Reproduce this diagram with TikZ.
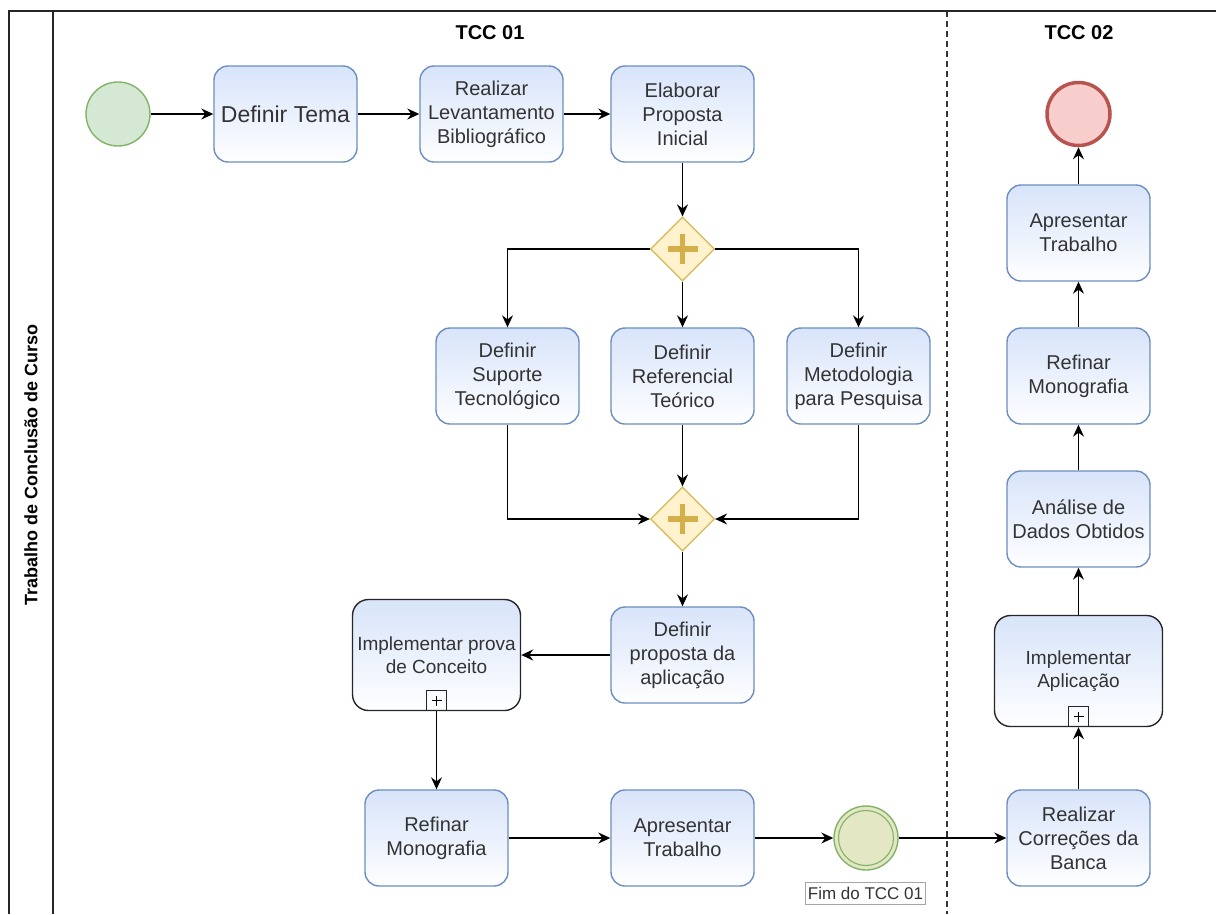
\documentclass[tikz,border=0pt]{standalone}
\usepackage{fontspec}
\setmainfont{Liberation Sans}
\usetikzlibrary{arrows.meta,shapes.geometric}

\definecolor{taskTop}{HTML}{D8E4FA}
\definecolor{taskLine}{HTML}{6C8EBF}
\definecolor{txt}{HTML}{333333}
\definecolor{startFill}{HTML}{D5E8D4}
\definecolor{startLine}{HTML}{82B366}
\definecolor{midFill}{HTML}{E3E7C4}
\definecolor{endFill}{HTML}{F8CECC}
\definecolor{endLine}{HTML}{B85450}
\definecolor{gwFill}{HTML}{FFF2CC}
\definecolor{gwLine}{HTML}{D6B656}
\definecolor{gwPlus}{HTML}{D4B04A}

\tikzset{
  task/.style={draw=taskLine, line width=1.4pt, rounded corners=14pt,
    top color=taskTop, bottom color=white!97!taskTop,
    minimum width=143pt, minimum height=96pt, inner sep=2pt,
    align=center, text=txt, font=\fontsize{20}{24}\selectfont},
  subproc/.style={draw=black!85, line width=1.4pt, rounded corners=16pt,
    top color=taskTop, bottom color=white!97!taskTop,
    minimum width=168pt, minimum height=111pt, inner sep=2pt,
    align=center, text=txt, font=\fontsize{19}{23}\selectfont},
  marker/.style={draw=black!85, line width=1.2pt, minimum size=20pt,
    inner sep=0pt, anchor=south},
  gateway/.style={diamond, draw=gwLine, fill=gwFill, line width=1.2pt,
    minimum width=64pt, minimum height=64pt, inner sep=0pt},
  plusbar/.style={draw=gwPlus, line width=5.5pt},
  startev/.style={circle, draw=startLine, fill=startFill, line width=1.4pt,
    minimum size=64pt, inner sep=0pt},
  midev/.style={circle, draw=startLine, fill=midFill, line width=1.4pt,
    minimum size=64pt, inner sep=0pt},
  endev/.style={circle, draw=endLine, fill=endFill, line width=3.5pt,
    minimum size=63pt, inner sep=0pt},
  flow/.style={line width=1.4pt, draw=black,
    -{Stealth[length=12pt,width=11pt,inset=4pt]}},
  frameline/.style={line width=2pt, draw=black!85},
  title/.style={font=\bfseries\fontsize{20}{24}\selectfont, text=black},
  evlabel/.style={draw=black!35, fill=white, line width=0.8pt, text=txt,
    inner sep=2pt, minimum height=22pt,
    font=\fontsize{17}{20}\selectfont}
}

\begin{document}
\begin{tikzpicture}[x=1pt, y=-1pt]
\useasboundingbox (0,0) rectangle (1216,914);

% pool and lane frame
\draw[frameline] (9,914) -- (9,11) -- (1216,11);
\draw[frameline] (53,11) -- (53,914);
\draw[line width=1.2pt, draw=black!80, dash pattern=on 6pt off 4pt] (947,11) -- (947,914);
\node[rotate=90, font=\bfseries\fontsize{18}{22}\selectfont] (lane) at (31,465)
  {Trabalho de Conclusão de Curso};
\node[title] (t1) at (490,33) {TCC 01};
\node[title] (t2) at (1079,33) {TCC 02};

% first semester
\node[startev] (start) at (118,114) {};
\node[task, font=\fontsize{23}{27}\selectfont] (tema) at (285.5,114) {Definir Tema};
\node[task] (lev) at (491.5,114) {Realizar\\Levantamento\\Bibliográfico};
\node[task] (prop) at (682.5,114) {Elaborar\\Proposta\\Inicial};
\node[gateway] (g1) at (682.5,249) {};
\draw[plusbar] ([xshift=-15pt]g1.center) -- ([xshift=15pt]g1.center);
\draw[plusbar] ([yshift=-15pt]g1.center) -- ([yshift=15pt]g1.center);

\node[task] (sup) at (507.5,376) {Definir\\Suporte\\Tecnológico};
\node[task] (ref) at (682.5,376) {Definir\\Referencial\\Teórico};
\node[task] (met) at (858.5,376) {Definir\\Metodologia\\para Pesquisa};
\node[gateway] (g2) at (682.5,519) {};
\draw[plusbar] ([xshift=-15pt]g2.center) -- ([xshift=15pt]g2.center);
\draw[plusbar] ([yshift=-15pt]g2.center) -- ([yshift=15pt]g2.center);

\node[task] (dpa) at (682.5,655) {Definir\\proposta da\\aplicação};
\node[subproc] (ipc) at (436.5,655) {Implementar prova\\de Conceito};
\node[marker] (m1) at (ipc.south) {};
\draw[line width=1.1pt] ([xshift=-5pt]m1.center) -- ([xshift=5pt]m1.center);
\draw[line width=1.1pt] ([yshift=-5pt]m1.center) -- ([yshift=5pt]m1.center);

\node[task] (rm1) at (436.5,838) {Refinar\\Monografia};
\node[task] (at1) at (682.5,838) {Apresentar\\Trabalho};
\node[midev] (fim) at (866,838) {};
\node[circle, draw=startLine, line width=1.1pt, minimum size=55pt, inner sep=0pt]
  (fimin) at (fim.center) {};
\node[evlabel] (fimlbl) at (865.5,893) {Fim do TCC 01};

% second semester
\node[task] (cor) at (1078.5,838) {Realizar\\Correções da\\Banca};
\node[subproc] (iap) at (1078.5,671) {Implementar\\Aplicação};
\node[marker] (m2) at (iap.south) {};
\draw[line width=1.1pt] ([xshift=-5pt]m2.center) -- ([xshift=5pt]m2.center);
\draw[line width=1.1pt] ([yshift=-5pt]m2.center) -- ([yshift=5pt]m2.center);
\node[task] (ana) at (1078.5,519) {Análise de\\Dados Obtidos};
\node[task] (rm2) at (1078.5,376) {Refinar\\Monografia};
\node[task] (at2) at (1078.5,233) {Apresentar\\Trabalho};
\node[endev] (fin) at (1078.5,114) {};

% sequence flows
\draw[flow] (start) -- (tema);
\draw[flow] (tema) -- (lev);
\draw[flow] (lev) -- (prop);
\draw[flow] (prop) -- (g1);
\draw[flow] (g1.west) -| (sup.north);
\draw[flow] (g1.south) -- (ref.north);
\draw[flow] (g1.east) -| (met.north);
\draw[flow] (sup.south) |- (g2.west);
\draw[flow] (ref.south) -- (g2.north);
\draw[flow] (met.south) |- (g2.east);
\draw[flow] (g2.south) -- (dpa.north);
\draw[flow] (dpa.west) -- (ipc.east);
\draw[flow] (m1.south) -- (rm1.north);
\draw[flow] (rm1) -- (at1);
\draw[flow] (at1) -- (fim);
\draw[flow] (fim) -- (cor);
\draw[flow] (cor.north) -- (m2.south);
\draw[flow] (iap.north) -- (ana.south);
\draw[flow] (ana) -- (rm2);
\draw[flow] (rm2) -- (at2);
\draw[flow] (at2) -- (fin);
\end{tikzpicture}
\end{document}
